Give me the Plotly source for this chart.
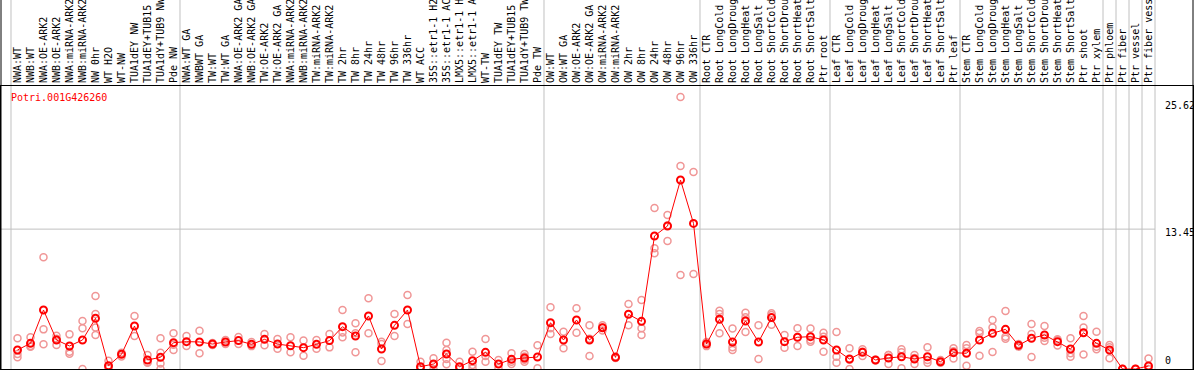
import plotly.graph_objects as go

# ---------------- data ----------------
group_nw = ["NWA:WT", "NWB:WT", "NWA:OE-ARK2", "NWB:OE-ARK2", "NWA:miRNA-ARK2", "NWB:miRNA-ARK2",
            "NW 0hr", "WT H2O", "WT-NW", "TUA1dEY NW", "TUA1dEY+TUB15 NW", "TUA1dY+TUB9 NW", "Pde NW"]
group_tw = ["NWA:WT GA", "NWBWT GA", "TW:WT", "TW:WT GA", "NWA:OE-ARK2 GA", "NWB:OE-ARK2 GA",
            "TW:OE-ARK2", "TW:OE-ARK2 GA", "NWA:miRNA-ARK2", "NWB:miRNA-ARK2", "TW:miRNA-ARK2",
            "TW:miRNA-ARK2", "TW 2hr", "TW 8hr", "TW 24hr", "TW 48hr", "TW 96hr", "TW 336hr", "WT ACC",
            "35S::etr1-1 H2O", "35S::etr1-1 ACC", "LMX5::etr1-1 H2O", "LMX5::etr1-1 ACC", "WT-TW",
            "TUA1dEY TW", "TUA1dEY+TUB15 TW", "TUA1dY+TUB9 TW", "Pde TW"]
group_ow = ["OW:WT", "OW:WT GA", "OW:OE-ARK2", "OW:OE-ARK2 GA", "OW:miRNA-ARK2", "OW:miRNA-ARK2",
            "OW 2hr", "OW 8hr", "OW 24hr", "OW 48hr", "OW 96hr", "OW 336hr"]
group_root = ["Root CTR", "Root LongCold", "Root LongDrought", "Root LongHeat", "Root LongSalt",
              "Root ShortCold", "Root ShortDrought", "Root ShortHeat", "Root ShortSalt", "Ptr root"]
group_leaf = ["Leaf CTR", "Leaf LongCold", "Leaf LongDrought", "Leaf LongHeat", "Leaf LongSalt",
              "Leaf ShortCold", "Leaf ShortDrought", "Leaf ShortHeat", "Leaf ShortSalt", "Ptr leaf"]
group_stem = ["Stem CTR", "Stem LongCold", "Stem LongDrought", "Stem LongHeat", "Stem LongSalt",
              "Stem ShortCold", "Stem ShortDrought", "Stem ShortHeat", "Stem ShortSalt", "Ptr shoot",
              "Ptr xylem"]
group_phloem = ["Ptr phloem"]
group_fiber = ["Ptr fiber"]
group_vessel = ["Ptr vessel"]
group_fv = ["Ptr fiber vessel"]

groups = [group_nw, group_tw, group_ow, group_root, group_leaf, group_stem,
          group_phloem, group_fiber, group_vessel, group_fv]

means = [
    1.83, 2.47, 5.67, 2.79, 2.21, 2.79, 4.87, 0.32, 1.41, 4.13, 0.87, 1.12, 2.53,
    2.63, 2.60, 2.40, 2.60, 2.73, 2.37, 2.85, 2.40, 2.24, 2.05, 2.37, 2.73, 4.07, 3.17,
    5.10, 1.92, 4.20, 5.67, 0.22, 0.48, 1.44, 0.22, 0.80, 1.60, 0.48, 0.93, 1.06, 1.15,
    4.45, 2.79, 4.71, 2.79, 3.97, 1.12, 5.26, 4.58, 12.79, 13.75, 18.17, 14.00,
    2.40, 4.78, 2.60, 4.62, 2.60, 4.94, 2.63, 3.05, 3.11, 2.79,
    1.83, 0.96, 1.60, 0.87, 1.06, 1.18, 0.96, 1.18, 0.70, 1.57,
    1.51, 2.79, 3.43, 3.81, 2.28, 2.95, 3.27, 2.63, 1.92, 3.49, 2.47,
    1.83, 0.00, 0.00, 0.29,
]

replicates = [
    [2.95, 1.44, 1.12], [3.05, 2.20, 2.15], [10.74, 3.81, 2.37], [3.20, 2.90, 2.30],
    [3.33, 1.66, 1.47], [4.62, 3.91, 0.0], [7.02, 5.29, 4.00, 3.27], [0.80, 0.10, 0.05],
    [1.57, 1.45, 1.20], [5.10, 3.17], [1.35, 0.65, 0.61], [2.95, 1.57, 0.54, 0.0],
    [3.43, 2.33, 1.83],
    [3.17, 2.21], [3.68, 1.51], [2.50, 2.35, 2.30], [2.79, 2.40], [3.08, 2.40], [2.60, 2.20],
    [3.37, 2.28], [2.88, 1.95], [3.05, 1.60], [2.73, 1.28], [2.79, 1.95], [3.37, 2.08],
    [5.67, 3.50, 3.05], [4.39, 3.43, 1.60], [6.80, 3.43], [2.63, 2.40, 0.77], [5.29, 3.17],
    [7.12, 4.33], [0.70, 0.0, 0.0], [1.03, 0.40, 0.0], [2.53, 1.83, 0.96, 0.45],
    [0.70, 0.0, 0.0], [1.66, 0.38, 0.06], [2.88, 1.25, 0.70], [0.87, 0.10],
    [1.51, 0.70, 0.48], [1.45, 1.20, 0.90, 0.70], [2.28, 0.07],
    [5.93, 3.91, 3.37], [3.59, 1.99], [5.83, 3.49], [4.20, 2.92, 1.25], [4.20, 4.00, 3.70],
    [1.20, 1.10, 1.05], [6.25, 4.20], [6.63, 3.91, 3.27], [15.48, 11.60, 11.12],
    [14.80, 13.80, 12.30], [26.15, 19.52, 9.04], [18.94, 9.13],
    [2.60, 2.40, 2.20], [5.61, 5.29, 3.43], [3.90, 2.10, 1.83], [5.41, 4.97, 3.56],
    [4.20, 0.96], [5.35, 5.20, 4.26], [3.27, 2.05], [3.91, 2.21], [3.90, 2.80, 2.63],
    [3.49, 3.11, 1.66],
    [3.56, 1.18, 0.61], [1.99, 0.90, 0.0], [1.90, 1.65, 1.25], [0.90, 0.85, 0.85],
    [1.35, 1.35, 0.48], [1.89, 1.60, 0.07], [1.35, 1.05, 0.48], [2.08, 0.87, 0.61],
    [0.87, 0.65, 0.60], [1.99, 1.70, 1.02],
    [2.31, 1.99, 0.32], [3.66, 3.43, 1.28], [4.71, 4.00, 1.63], [5.58, 3.11, 2.91],
    [2.40, 2.30, 2.15], [4.33, 3.37, 1.15], [4.13, 3.00, 2.70], [2.85, 2.80, 2.25],
    [2.95, 1.51, 1.18], [5.10, 4.00, 1.40], [3.59, 2.14, 1.89],
    [2.31, 2.08, 1.03], [0.0, 0.0], [0.0, 0.0], [1.00, 0.0, 0.0],
]

gene_id = "Potri.001G426260"
ytick_vals = [0, 13.45, 25.62]
ytick_text = ["0", "13.45", "25.62"]

# ---------------- figure ----------------
labels = [l for g in groups for l in g]
xs = list(range(len(labels)))

XMIN, XMAX = -1.269, 90.423
YMAX = 27.21
MONO = "DejaVu Sans Mono"


def xpaper(v):
    return (v - XMIN) / (XMAX - XMIN)


rx, ry = [], []
for i, r in enumerate(replicates):
    rx += [i] * len(r)
    ry += r

fig = go.Figure()
fig.add_trace(go.Scatter(
    x=rx, y=ry, mode="markers", hoverinfo="skip", showlegend=False,
    marker=dict(symbol="circle-open", size=7, color="rgb(240,150,150)", line=dict(width=1.5)),
))
fig.add_trace(go.Scatter(
    x=xs, y=means, mode="lines+markers", showlegend=False,
    line=dict(color="#ff0000", width=1),
    marker=dict(symbol="circle-open", size=7, color="#ff0000", line=dict(width=2)),
))

shapes = []
# group separators
b = -0.5
bounds = [b]
for g in groups:
    b += len(g)
    bounds.append(b)
for bb in bounds:
    shapes.append(dict(type="line", xref="paper", yref="paper", x0=xpaper(bb), x1=xpaper(bb),
                       y0=0, y1=1.31, line=dict(color="#c0c0c0", width=1), layer="below"))
# mid grid line
shapes.append(dict(type="line", xref="x", yref="y", x0=XMIN, x1=bounds[-1],
                   y0=ytick_vals[1], y1=ytick_vals[1], line=dict(color="#c0c0c0", width=1), layer="below"))
# outer borders through header
for xp in (0, 1):
    shapes.append(dict(type="line", xref="paper", yref="paper", x0=xp, x1=xp, y0=0, y1=1.31,
                       line=dict(color="black", width=1)))

annotations = [dict(text=gene_id, xref="paper", yref="paper", x=8 / 1192, y=(283 - 11) / 283,
                    xanchor="left", yanchor="middle", showarrow=False,
                    font=dict(family=MONO, size=10, color="#ff0000"))]
for v, t in zip(ytick_vals, ytick_text):
    if v == 0:
        annotations.append(dict(text=t, xref="x", yref="y", x=88.1, y=v, xanchor="left", yanchor="bottom",
                                yshift=1, showarrow=False, font=dict(family=MONO, size=10, color="black")))
    else:
        annotations.append(dict(text=t, xref="x", yref="y", x=88.1, y=v, xanchor="left", yanchor="middle",
                                yshift=-3, showarrow=False, font=dict(family=MONO, size=10, color="black")))

fig.update_layout(
    width=1194, height=370,
    margin=dict(l=1, r=1, t=86, b=1, pad=0),
    paper_bgcolor="white", plot_bgcolor="white",
    shapes=shapes, annotations=annotations,
    xaxis=dict(range=[XMIN, XMAX], side="top", tickmode="array", tickvals=xs, ticktext=labels,
               tickangle=-90, tickfont=dict(family=MONO, size=10, color="black"),
               showgrid=False, zeroline=False, ticks="", showline=True, mirror=True,
               linecolor="black", linewidth=1, automargin=False, fixedrange=True),
    yaxis=dict(range=[0, YMAX], showticklabels=False, showgrid=False, zeroline=False, ticks="",
               showline=True, mirror=True, linecolor="black", linewidth=1, automargin=False,
               fixedrange=True),
)

fig.write_html("out.html", config={"displayModeBar": False},
               post_script="document.body.style.margin='0';document.body.style.overflow='hidden';")
